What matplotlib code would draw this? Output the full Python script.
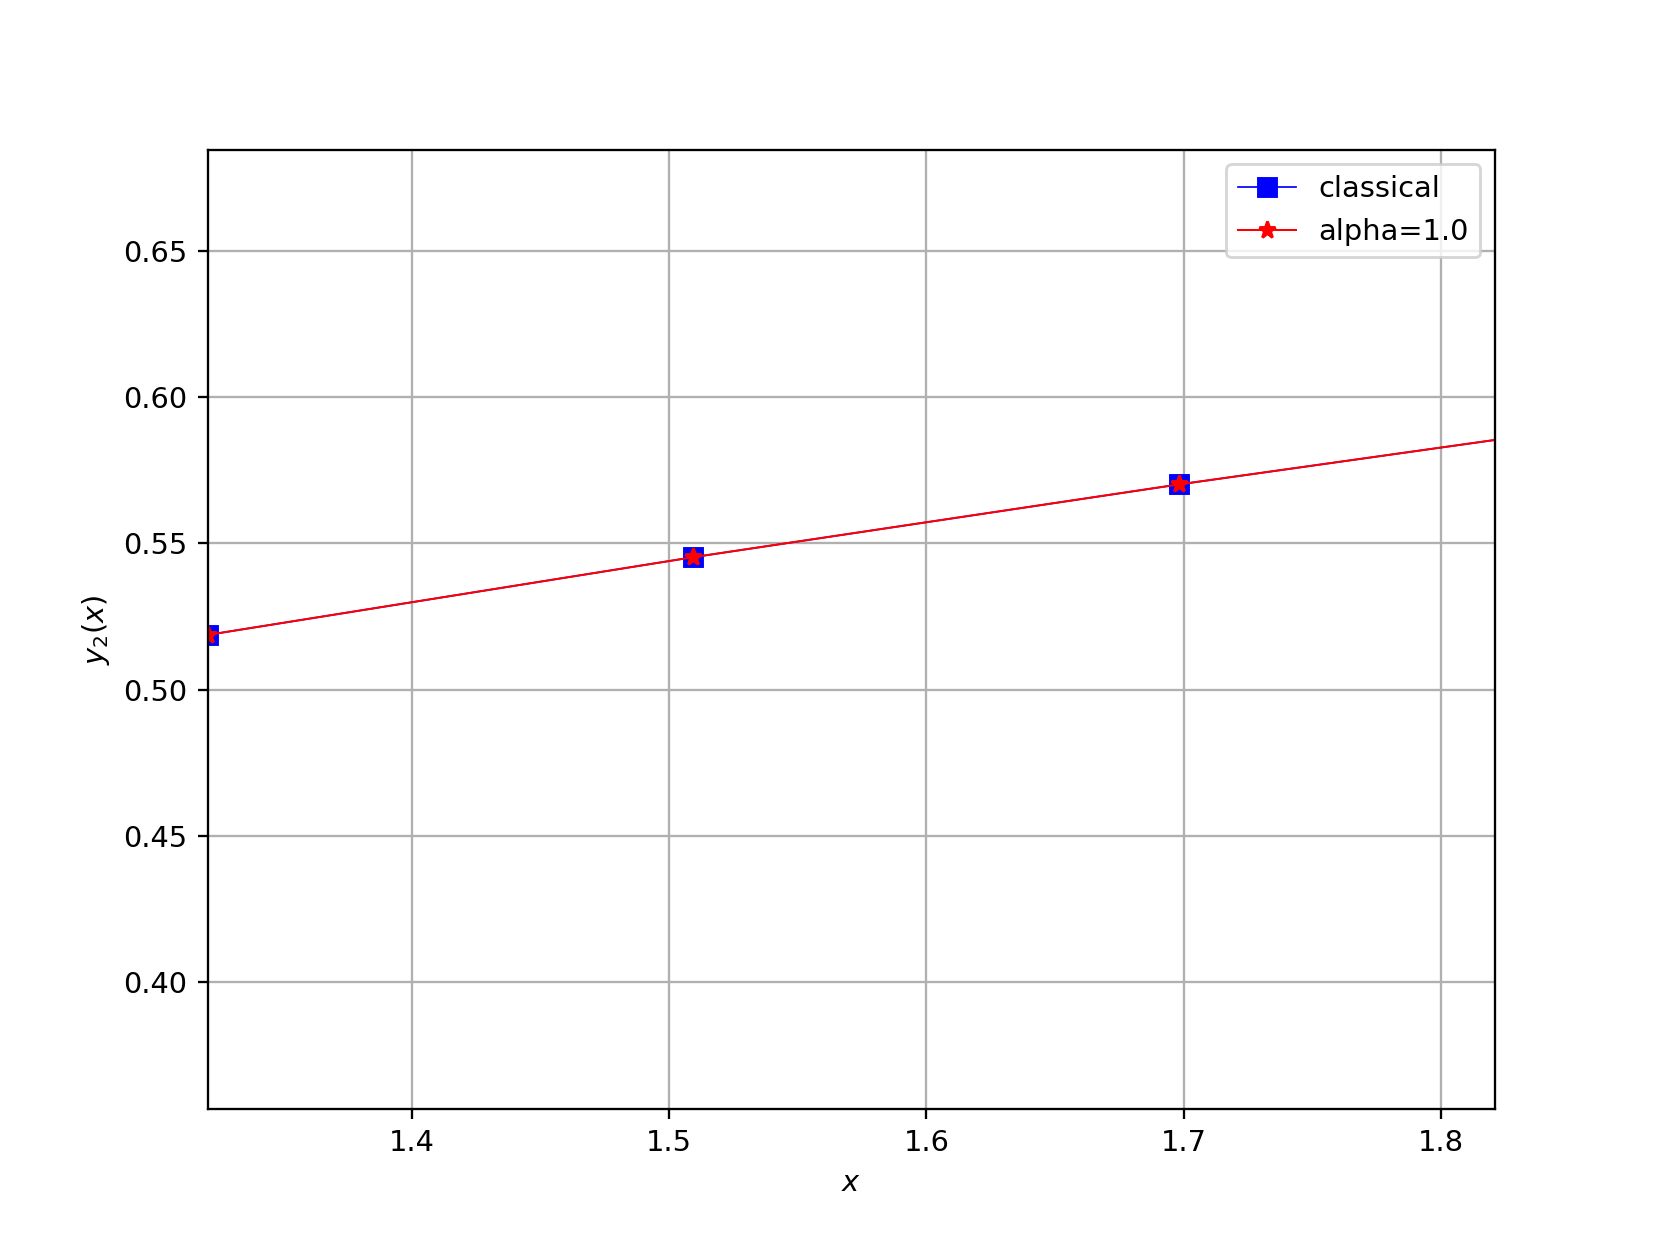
import matplotlib
matplotlib.use("Agg")
import matplotlib.pyplot as plt

# data
x_vals = [1.3208, 1.5094, 1.6981, 1.8868]
y_classical = [0.5187, 0.5453, 0.5702, 0.5936]
y_alpha = [0.5187, 0.5453, 0.5702, 0.5936]

DPI = 1661 / 8
fig = plt.figure(figsize=(8, 1246 / DPI), dpi=DPI)
ax = fig.add_subplot(111)
ax.plot(x_vals, y_classical, color="blue", marker="s", linewidth=0.6,
        markersize=6, label="classical")
ax.plot(x_vals, y_alpha, color="red", marker="*", linewidth=0.7,
        markersize=6, label="alpha=1.0")
ax.set_xlim(1.3208, 1.8208)
ax.set_ylim(0.3565, 0.6848)
ax.set_xlabel("$x$")
ax.set_ylabel("$y_2(x)$")
ax.grid(True)
ax.legend(loc="upper right")
fig.savefig("out.png", dpi=DPI)
